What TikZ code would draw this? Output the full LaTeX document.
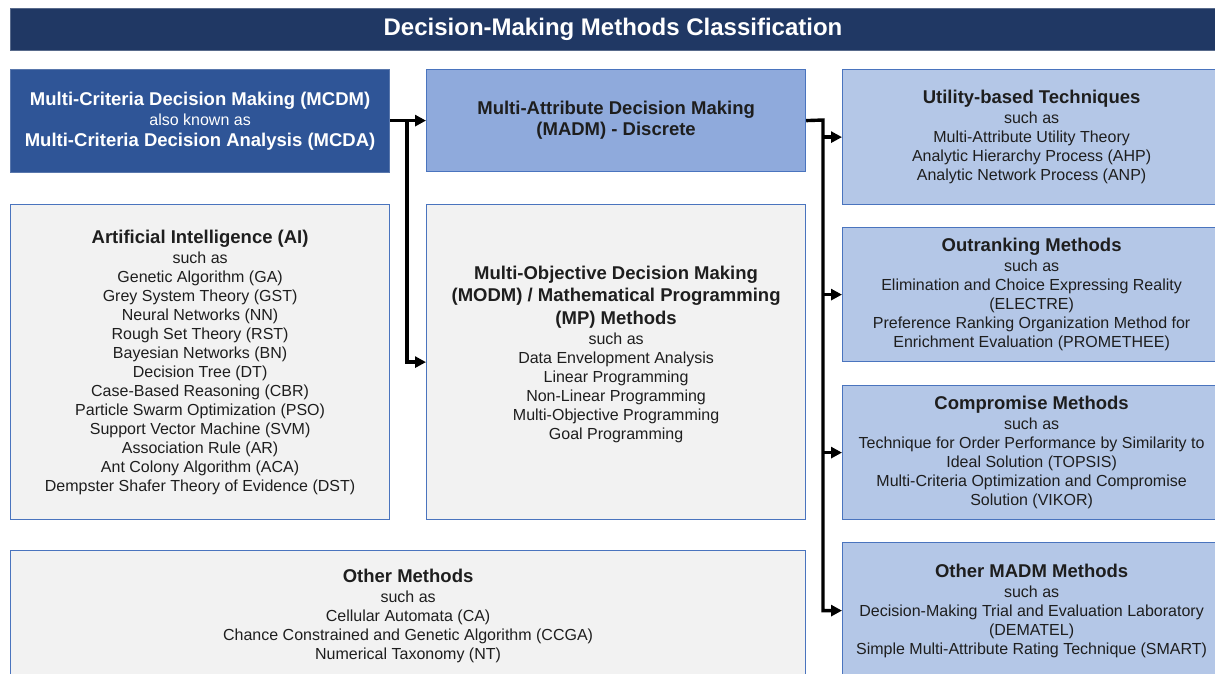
\documentclass[tikz,border=0pt]{standalone}
\usepackage{fontspec}
\setmainfont{Liberation Sans}
\usetikzlibrary{arrows.meta}

\definecolor{titlebg}{HTML}{203864}
\definecolor{mcdmbg}{HTML}{2F5597}
\definecolor{madmbg}{HTML}{8FAADC}
\definecolor{techbg}{HTML}{B4C7E7}
\definecolor{graybg}{HTML}{F2F2F2}
\definecolor{edge}{HTML}{4A74BE}
\definecolor{bodytext}{HTML}{1E1E1E}

% bold heading line inside a box
\newcommand{\hd}[1]{{\fontsize{18.5}{22}\selectfont\bfseries #1}}

\begin{document}
\begin{tikzpicture}[x=1pt, y=1pt,
  box/.style={rectangle, draw=edge, line width=1.2pt, anchor=north west,
    inner sep=0pt, align=center, text=bodytext,
    font=\fontsize{16}{19}\selectfont},
  graybox/.style={box, fill=graybg},
  techbox/.style={box, fill=techbg, minimum width=378pt},
  titlebar/.style={rectangle, fill=titlebg, draw=titlebg!75!white, line width=1pt,
    anchor=north west, inner sep=0pt, text=white,
    font=\fontsize{24}{28}\selectfont\bfseries},
  conn/.style={line width=3.4pt, line join=miter, draw=black},
  arr/.style={conn, -{Triangle[length=11pt, width=11pt]}}
]
\useasboundingbox (0,0) rectangle (1215,-673);
\clip (0,0) rectangle (1215,-673);

% title
\node[titlebar, minimum width=1205pt, minimum height=42pt] (title) at (10,-8)
  {Decision-Making Methods Classification};

% left column
\node[box, fill=mcdmbg, draw=mcdmbg!80!white, text=white,
      font=\fontsize{16}{20.5}\selectfont,
      minimum width=379pt, minimum height=103pt] (mcdm) at (10,-69)
  {\hd{Multi-Criteria Decision Making (MCDM)}\\
   also known as\\
   \hd{Multi-Criteria Decision Analysis (MCDA)}};

\node[graybox, minimum width=379pt, minimum height=315pt] (ai) at (10,-204)
  {\hd{Artificial Intelligence (AI)}\\[1pt]
   such as\\
   Genetic Algorithm (GA)\\
   Grey System Theory (GST)\\
   Neural Networks (NN)\\
   Rough Set Theory (RST)\\
   Bayesian Networks (BN)\\
   Decision Tree (DT)\\
   Case-Based Reasoning (CBR)\\
   Particle Swarm Optimization (PSO)\\
   Support Vector Machine (SVM)\\
   Association Rule (AR)\\
   Ant Colony Algorithm (ACA)\\
   Dempster Shafer Theory of Evidence (DST)};

% middle column
\node[box, fill=madmbg, font=\fontsize{16}{21}\selectfont,
      minimum width=379pt, minimum height=102pt] (madm) at (426,-69)
  {\hd{Multi-Attribute Decision Making}\\
   \hd{(MADM) - Discrete}};

\node[graybox, minimum width=379pt, minimum height=315pt] (modm) at (426,-204) {};
\node[align=center, text=bodytext, inner sep=0pt,
      font=\fontsize{16}{19}\selectfont] (modmtext) at ([yshift=8pt]modm.center)
  {\hd{Multi-Objective Decision Making}\\[3.5pt]
   \hd{(MODM) / Mathematical Programming}\\[3.5pt]
   \hd{(MP) Methods}\\[1pt]
   such as\\
   Data Envelopment Analysis\\
   Linear Programming\\
   Non-Linear Programming\\
   Multi-Objective Programming\\
   Goal Programming};

% bottom row
\node[graybox, minimum width=795pt, minimum height=130pt] (other) at (10,-550)
  {\hd{Other Methods}\\[1pt]
   such as\\
   Cellular Automata (CA)\\
   Chance Constrained and Genetic Algorithm (CCGA)\\
   Numerical Taxonomy (NT)};

% right column
\node[techbox, minimum height=135pt] (util) at (842,-69)
  {\hd{Utility-based Techniques}\\[1pt]
   such as\\
   Multi-Attribute Utility Theory\\
   Analytic Hierarchy Process (AHP)\\
   Analytic Network Process (ANP)};

\node[techbox, minimum height=134pt] (outrank) at (842,-227)
  {\hd{Outranking Methods}\\[1pt]
   such as\\
   Elimination and Choice Expressing Reality\\
   (ELECTRE)\\
   Preference Ranking Organization Method for\\
   Enrichment Evaluation (PROMETHEE)};

\node[techbox, minimum height=134pt] (compro) at (842,-385)
  {\hd{Compromise Methods}\\[1pt]
   such as\\
   Technique for Order Performance by Similarity to\\
   Ideal Solution (TOPSIS)\\
   Multi-Criteria Optimization and Compromise\\
   Solution (VIKOR)};

\node[techbox, minimum height=136pt] (omadm) at (842,-542)
  {\hd{Other MADM Methods}\\[1pt]
   such as\\
   Decision-Making Trial and Evaluation Laboratory\\
   (DEMATEL)\\
   Simple Multi-Attribute Rating Technique (SMART)};

% connectors from MCDM
\coordinate (trunkA) at (407,-120);
\draw[arr] (mcdm.east |- madm.west) -- (madm.west);
\draw[arr] (trunkA) |- (modm.west);

% connectors from MADM
\coordinate (trunkB) at (823,-120);
\draw[arr] (madm.east) -- (trunkB) |- (omadm.west);
\draw[arr] (trunkB |- util.west) -- (util.west);
\draw[arr] (trunkB |- outrank.west) -- (outrank.west);
\draw[arr] (trunkB |- compro.west) -- (compro.west);
\end{tikzpicture}
\end{document}
